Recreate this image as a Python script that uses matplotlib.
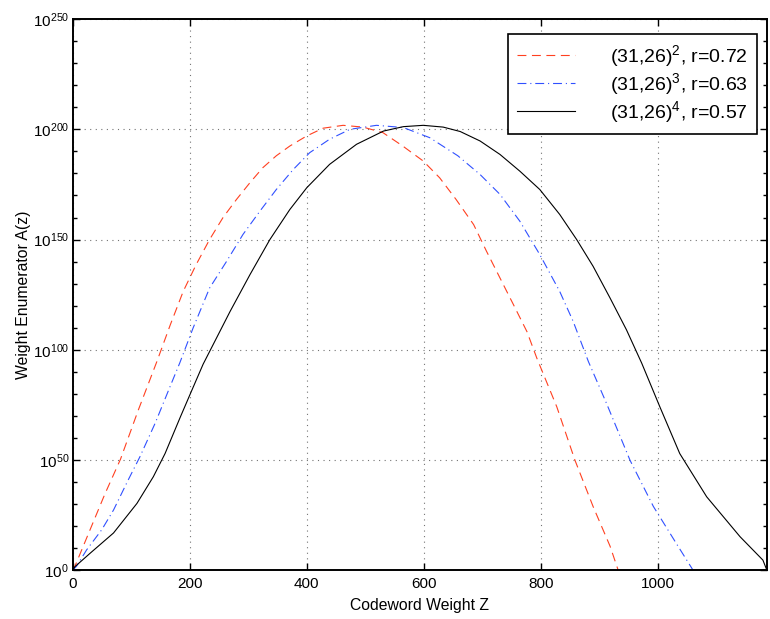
import numpy as np
import matplotlib
matplotlib.use("Agg")
import matplotlib.pyplot as plt
from matplotlib.ticker import FixedLocator, FuncFormatter, NullFormatter

plt.rcParams['font.family'] = ['Liberation Sans', 'DejaVu Sans']
plt.rcParams['mathtext.fontset'] = 'custom'
plt.rcParams['mathtext.rm'] = 'Liberation Sans'
plt.rcParams['mathtext.it'] = 'Liberation Sans:italic'
plt.rcParams['mathtext.bf'] = 'Liberation Sans:bold'

# weight z and log10 A(z)
z_2 = [0, 5, 30, 55, 82, 112, 144, 167, 189, 211, 234, 257, 280, 303, 325, 348, 371, 400,
       428, 462, 496, 530, 564, 599, 627, 655, 685, 707, 730, 753, 776, 793, 827, 858, 889,
       918, 932]
logA_2 = [0, 2.5, 18.5, 34.5, 50.5, 72.5, 94.7, 111.4, 126.5, 138.6, 150, 160, 168.2, 175.8,
          182.6, 188, 192.4, 197, 200.5, 201.8, 201, 198.5, 192.4, 185.6, 178, 168.2, 156.8,
          144.7, 132.6, 120.5, 108.3, 96.2, 74.2, 50, 29, 11, 0]

z_3 = [0, 7, 24, 50, 70, 95, 115, 141, 166, 183, 206, 234, 263, 291, 320, 348, 377, 405,
       439, 474, 519, 565, 610, 658, 696, 730, 764, 798, 832, 855, 881, 912, 952, 992, 1031,
       1060]
logA_3 = [0, 2, 9.3, 18.5, 27.4, 41, 51.5, 66.7, 83, 94, 110, 128, 140.1, 152.3, 162.9, 172.7,
          181.8, 189.4, 195.5, 200, 201.8, 200.8, 196.2, 188, 179.5, 170.5, 158.3, 143.2, 126.5,
          112.9, 94.7, 75.7, 50, 29, 12.3, 0]

z_4 = [0, 4, 30, 70, 110, 138, 158, 184, 201, 223, 269, 303, 337, 371, 400, 439, 485, 531,
       565, 599, 633, 662, 696, 730, 764, 798, 832, 861, 889, 918, 946, 972, 1003, 1037, 1083,
       1140, 1179, 1186]
logA_4 = [0, 1.7, 7.8, 17, 30.4, 42.5, 53, 69.5, 80, 93.5, 117.4, 134.1, 150, 163.6, 173.5,
          184.1, 193.2, 199.2, 201.2, 201.8, 201, 199, 194.7, 188.6, 181, 172.7, 161.4, 150,
          137.9, 123.5, 109.1, 94, 74.2, 53, 33.4, 15.3, 4.7, 0]

labels = ['(31,26)$^2$, r=0.72', '(31,26)$^3$, r=0.63', '(31,26)$^4$, r=0.57']
x_ticks = [0, 200, 400, 600, 800, 1000]
y_exps = [0, 50, 100, 150, 200, 250]

fig = plt.figure(figsize=(7.7, 6.19), dpi=100)
ax = fig.add_axes([0.0942, 0.0784, 0.9019, 0.8909])

ax.plot(z_2, 10.0 ** np.array(logA_2), color='#ff4020', lw=0.8, dashes=(8, 5), label=labels[0])
ax.plot(z_3, 10.0 ** np.array(logA_3), color='#3050ff', lw=0.8, dashes=(8, 3.5, 1, 3.5), label=labels[1])
ax.plot(z_4, 10.0 ** np.array(logA_4), color='black', lw=0.8, label=labels[2])

ax.set_yscale('log')
ax.set_xlim(0, 1186)
ax.set_ylim(1e0, 1e250)
ax.xaxis.set_major_locator(FixedLocator(x_ticks))
ax.yaxis.set_major_locator(FixedLocator([10.0 ** e for e in y_exps]))
ax.yaxis.set_minor_locator(FixedLocator([10.0 ** e for e in range(0, 251, 10) if e % 50]))
ax.yaxis.set_major_formatter(FuncFormatter(lambda v, p: r'$10^{%d}$' % round(np.log10(v))))
ax.yaxis.set_minor_formatter(NullFormatter())
ax.xaxis.set_minor_locator(FixedLocator([]))

ax.tick_params(which='both', direction='in', top=True, right=True, labelsize=11, width=1)
ax.tick_params(which='major', length=5)
ax.tick_params(axis='x', which='major', pad=5)
ax.tick_params(axis='y', which='major', pad=2.5)
ax.tick_params(which='minor', length=3)
for s in ax.spines.values():
    s.set_linewidth(1.4)

ax.grid(True, which='major', color='0.45', linestyle=(0, (1, 4)), linewidth=0.8)

ax.set_xlabel('Codeword Weight Z', fontsize=11.3, labelpad=5)
ax.set_ylabel('Weight Enumerator A(z)', fontsize=11.3, labelpad=1)

leg = ax.legend(loc='upper right', bbox_to_anchor=(0.9856, 0.9728), borderaxespad=0,
                fontsize=14, handlelength=3.0, handletextpad=1.8, labelspacing=0.12,
                fancybox=False, framealpha=1, edgecolor='black', borderpad=0.45)
leg.get_frame().set_linewidth(1.2)

fig.savefig('out.png', dpi=100)
